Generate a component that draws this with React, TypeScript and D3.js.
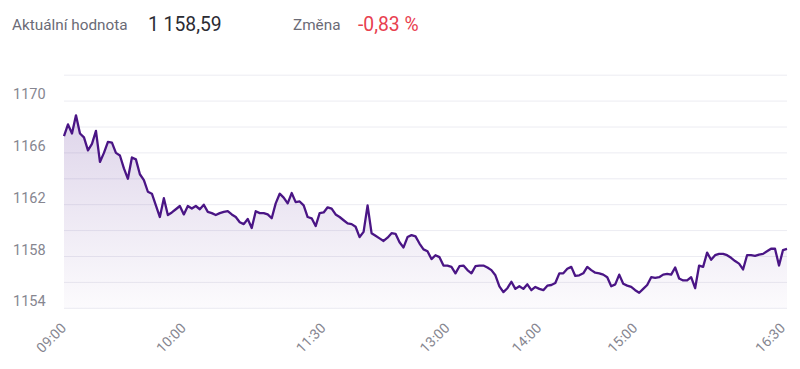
import React, { useEffect } from "react";
import * as d3 from "d3";

// Index values (one sample per step along the trading day)
const values: number[] = [
  1167.3, 1168.2, 1167.5, 1168.9, 1167.5, 1167.2, 1166.2, 1166.7, 1167.7, 1165.3,
  1166.0, 1166.85, 1166.8, 1166.0, 1165.8, 1164.8, 1164.0, 1165.65, 1165.5, 1164.35,
  1163.9, 1163.0, 1162.85, 1161.95, 1161.05, 1162.5, 1161.2, 1161.4, 1161.65, 1161.9,
  1161.25, 1161.9, 1161.7, 1161.9, 1161.65, 1162.0, 1161.45, 1161.35, 1161.2, 1161.35,
  1161.45, 1161.5, 1161.25, 1161.05, 1160.65, 1160.5, 1160.9, 1160.2, 1161.5, 1161.35,
  1161.35, 1161.25, 1160.95, 1162.1, 1162.85, 1162.55, 1162.1, 1162.9, 1162.2, 1162.25,
  1161.95, 1161.05, 1160.95, 1160.35, 1161.35, 1161.4, 1161.8, 1161.7, 1161.25, 1161.05,
  1160.8, 1160.55, 1160.5, 1160.3, 1159.5, 1159.9, 1161.95, 1159.8, 1159.6, 1159.4,
  1159.2, 1159.45, 1159.8, 1159.75, 1159.1, 1158.7, 1159.5, 1159.65, 1159.55, 1159.0,
  1158.55, 1158.4, 1157.8, 1158.1, 1157.95, 1157.3, 1157.3, 1157.2, 1156.7, 1157.25,
  1157.3, 1156.95, 1156.7, 1157.25, 1157.3, 1157.3, 1157.15, 1156.95, 1156.55, 1155.7,
  1155.25, 1155.55, 1156.05, 1155.5, 1155.7, 1155.5, 1155.85, 1155.4, 1155.65, 1155.5,
  1155.4, 1155.75, 1155.8, 1155.95, 1156.7, 1156.7, 1157.05, 1157.2, 1156.5, 1156.55,
  1156.7, 1157.2, 1156.95, 1156.75, 1156.7, 1156.6, 1156.4, 1155.7, 1155.85, 1156.6,
  1155.9, 1155.75, 1155.65, 1155.4, 1155.2, 1155.5, 1155.8, 1156.4, 1156.35, 1156.4,
  1156.6, 1156.65, 1156.6, 1157.15, 1156.3, 1156.15, 1156.15, 1156.4, 1155.55, 1157.3,
  1157.2, 1158.3, 1157.75, 1158.1, 1158.2, 1158.2, 1158.1, 1157.9, 1157.65, 1157.45,
  1157.0, 1158.1, 1158.1, 1158.05, 1158.15, 1158.2, 1158.4, 1158.6, 1158.6, 1157.3,
  1158.5, 1158.59,
];

const tickLabels: string[] = ["09:00", "10:00", "11:30", "13:00", "14:00", "15:00", "16:30"];
const tickIndexes: number[] = [0, 30, 65, 96, 119, 143, 180];

const gridValues: number[] = [1154, 1156, 1158, 1160, 1162, 1164, 1166, 1168, 1170, 1172];
const yLabelValues: number[] = [1154, 1158, 1162, 1166, 1170];

const currentLabel = "Aktuální hodnota";
const currentValue = "1 158,59";
const changeLabel = "Změna";
const changeValue = "-0,83 %";

const W = 800;
const H = 369;

export default function App() {
  useEffect(() => {
    document.body.style.margin = "0";
  }, []);

  const x = d3.scaleLinear().domain([0, values.length - 1]).range([64, 787]);
  const y = d3.scaleLinear().domain([1154, 1172]).range([308.3, 75.2]);

  const line = d3
    .line<number>()
    .x((_, i) => x(i))
    .y((d) => y(d));
  const area = d3
    .area<number>()
    .x((_, i) => x(i))
    .y0(y(1154))
    .y1((d) => y(d));

  const font = "Roboto, 'Noto Sans', sans-serif";

  return (
    <svg
      width={W}
      height={H}
      style={{ position: "absolute", left: 0, top: 0, background: "#fff" }}
      fontFamily={font}
    >
      <defs>
        <linearGradient
          id="areaGrad"
          gradientUnits="userSpaceOnUse"
          x1={0}
          y1={y(d3.max(values) as number)}
          x2={0}
          y2={y(1154)}
        >
          <stop offset="0%" stopColor="#5b2c95" stopOpacity={0.2} />
          <stop offset="100%" stopColor="#5b2c95" stopOpacity={0.02} />
        </linearGradient>
      </defs>

      <text x={12} y={30} fontSize={15.3} fill="#6b6b76">{currentLabel}</text>
      <text x={148} y={31} fontSize={19.3} fill="#2b2b33">{currentValue}</text>
      <text x={293} y={30} fontSize={15.3} fill="#6b6b76">{changeLabel}</text>
      <text x={358} y={31} fontSize={19.3} fill="#e8404f">{changeValue}</text>

      {gridValues.map((v) => (
        <line
          key={v}
          x1={64}
          x2={787}
          y1={y(v)}
          y2={y(v)}
          stroke="#ececf2"
          strokeWidth={1}
        />
      ))}

      {yLabelValues.map((v) => (
        <text key={v} x={13} y={y(v) - 2} fontSize={14.5} fill="#868690">
          {v}
        </text>
      ))}

      <path d={area(values) || ""} fill="url(#areaGrad)" />
      <path
        d={line(values) || ""}
        fill="none"
        stroke="#4a1585"
        strokeWidth={2.3}
        strokeLinejoin="round"
      />

      {tickLabels.map((t, i) => {
        const tx = x(tickIndexes[i]) + 3;
        const ty = 329;
        return (
          <text
            key={t}
            x={tx}
            y={ty}
            fontSize={14}
            fill="#868690"
            textAnchor="end"
            transform={`rotate(-45 ${tx} ${ty})`}
          >
            {t}
          </text>
        );
      })}
    </svg>
  );
}
